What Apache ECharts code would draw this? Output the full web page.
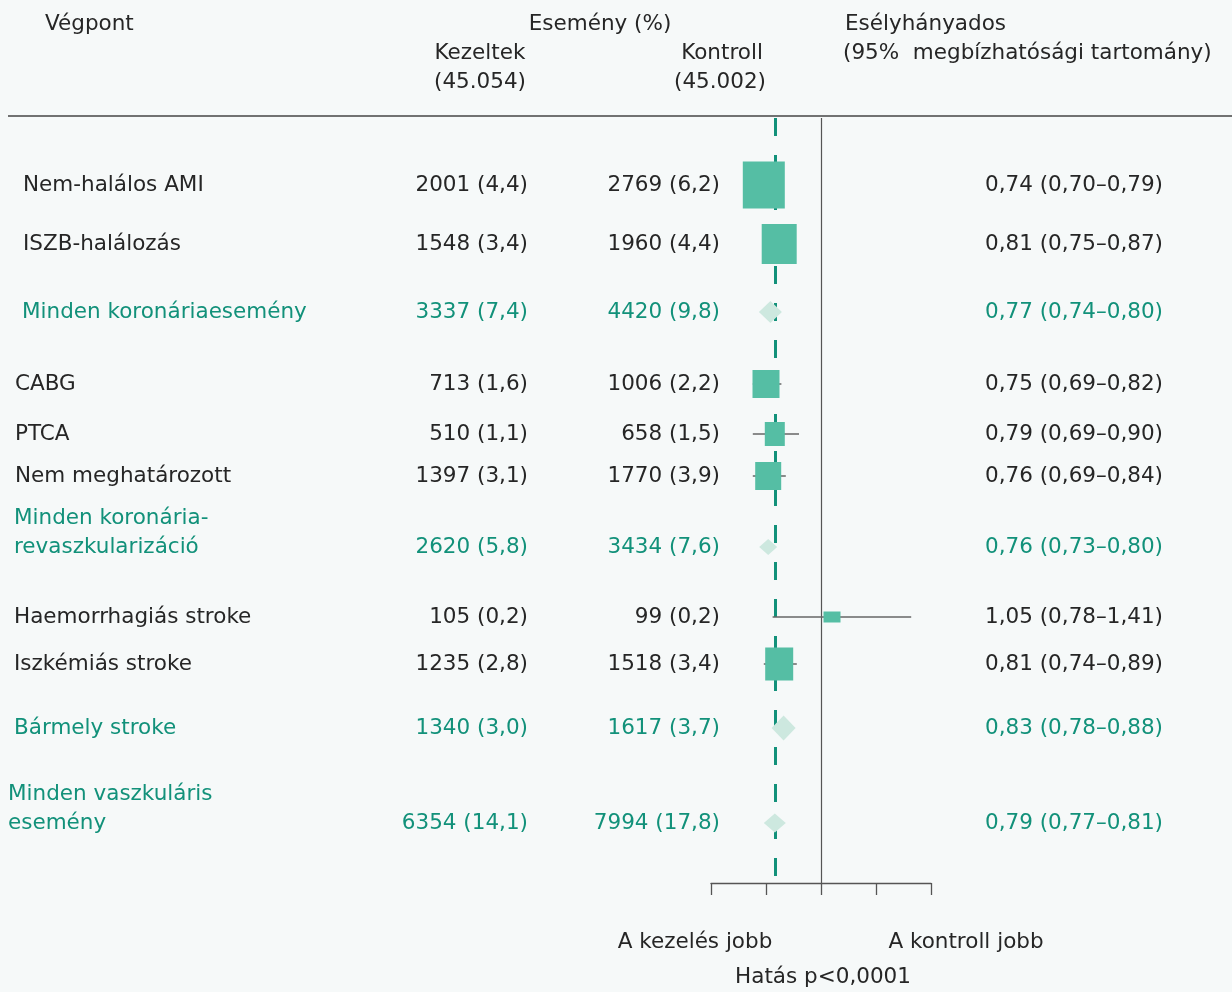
<!DOCTYPE html>
<html>
<head>
<meta charset="utf-8">
<script src="https://cdn.jsdelivr.net/npm/echarts@6/dist/echarts.min.js"></script>
<style>
  html, body { margin: 0; padding: 0; background: #f6f9f9; }
  #chart { width: 1232px; height: 992px; }
</style>
</head>
<body>
<div id="chart"></div>
<script>
// Endpoints and results (events, % of patients, odds ratio with 95% CI)
const endpoints = [
  'Nem-halálos AMI', 'ISZB-halálozás', 'Minden koronáriaesemény',
  'CABG', 'PTCA', 'Nem meghatározott', 'Minden koronária-\nrevaszkularizáció',
  'Haemorrhagiás stroke', 'Iszkémiás stroke', 'Bármely stroke',
  'Minden vaszkuláris\nesemény'
];
const treatedEvents = [2001, 1548, 3337, 713, 510, 1397, 2620, 105, 1235, 1340, 6354];
const treatedPct    = [4.4, 3.4, 7.4, 1.6, 1.1, 3.1, 5.8, 0.2, 2.8, 3.0, 14.1];
const controlEvents = [2769, 1960, 4420, 1006, 658, 1770, 3434, 99, 1518, 1617, 7994];
const controlPct    = [6.2, 4.4, 9.8, 2.2, 1.5, 3.9, 7.6, 0.2, 3.4, 3.7, 17.8];
const oddsRatio     = [0.74, 0.81, 0.77, 0.75, 0.79, 0.76, 0.76, 1.05, 0.81, 0.83, 0.79];
const ciLow         = [0.70, 0.75, 0.74, 0.69, 0.69, 0.69, 0.73, 0.78, 0.74, 0.78, 0.77];
const ciHigh        = [0.79, 0.87, 0.80, 0.82, 0.90, 0.84, 0.80, 1.41, 0.89, 0.88, 0.81];
const isSubtotal    = [false, false, true, false, false, false, true, false, false, true, true];
const overallOR = 0.79;
const axisMin = 0.5, axisMax = 1.5, axisStep = 0.25;

// Layout: vertical row slots (px from top of the plot band), label indents, marker sizes
const rowSlot   = [67, 126, 194, 266, 316, 358, 429, 499, 546, 610, 705];
const indent    = [23, 23, 22, 15, 15, 15, 14, 14, 14, 14, 8];
const boxSize   = [[42, 47], [35, 40], [23, 22], [27, 28], [20, 24], [26, 28], [18, 16], [17, 11], [28, 33], [24, 25], [22, 19]];

const FONT = "'DejaVu Sans', 'Noto Sans', sans-serif";
const FONT_SIZE = 21.5;
const INK = '#262626';
const GREEN = '#12917a';
const BOX = '#55bea4';
const DIAMOND = '#cde8df';

const fmt = (v, d) => v.toFixed(d).replace('.', ',');

const chart = echarts.init(document.getElementById('chart'), null, { renderer: 'canvas' });

const plotTop = 118, plotBottom = 883;

const whiskerData = [];
const boxData = [];
const diamondData = [];
oddsRatio.forEach((or, i) => {
  if (isSubtotal[i]) {
    diamondData.push({ value: [or, rowSlot[i]], symbolSize: boxSize[i] });
  } else {
    whiskerData.push([ciLow[i], ciHigh[i], rowSlot[i]]);
    boxData.push({ value: [or, rowSlot[i]], symbolSize: boxSize[i] });
  }
});

const option = {
  backgroundColor: '#f6f9f9',
  animation: false,
  grid: { left: 711, width: 220, top: plotTop, height: plotBottom - plotTop },
  xAxis: {
    type: 'value', min: axisMin, max: axisMax, interval: axisStep, position: 'bottom',
    axisLine: { show: true, onZero: false, lineStyle: { color: '#555', width: 1.3 } },
    axisTick: { show: true, length: 12, lineStyle: { color: '#555', width: 1.3 } },
    axisLabel: { show: false },
    splitLine: { show: false }
  },
  yAxis: {
    type: 'value', inverse: true, min: 0, max: plotBottom - plotTop,
    show: false
  },
  series: [
    {
      // reference lines: no effect (1.0) and overall odds ratio
      type: 'scatter', data: [], z: 1,
      markLine: {
        silent: true, symbol: 'none', label: { show: false }, z: 1,
        data: [
          { xAxis: 1.0, lineStyle: { color: '#555', width: 1.2, type: 'solid' } },
          { xAxis: overallOR, lineStyle: { color: GREEN, width: 3, type: [18, 19] } }
        ]
      }
    },
    {
      type: 'custom',
      data: whiskerData,
      z: 2,
      renderItem: (params, api) => {
        const a = api.coord([api.value(0), api.value(2)]);
        const b = api.coord([api.value(1), api.value(2)]);
        return {
          type: 'line',
          shape: { x1: a[0], y1: a[1], x2: b[0], y2: b[1] },
          style: { stroke: '#666', lineWidth: 1.5 }
        };
      }
    },
    {
      type: 'scatter', symbol: 'rect', z: 5,
      itemStyle: { color: BOX, opacity: 1 },
      data: boxData
    },
    {
      type: 'scatter', symbol: 'diamond', z: 5,
      itemStyle: { color: DIAMOND, opacity: 1 },
      data: diamondData
    }
  ]
};
chart.setOption(option);

// Text columns aligned with the plot rows
const yOf = v => chart.convertToPixel({ yAxisIndex: 0 }, v);
const txt = (text, x, y, align, color) => ({
  type: 'text', x, y, silent: true,
  style: { text, fill: color || INK, font: FONT_SIZE + 'px ' + FONT, textAlign: align || 'left', textVerticalAlign: 'middle' }
});

const graphics = [
  // header
  txt('Végpont', 45, 24),
  txt('Esemény (%)', 600, 24, 'center'),
  txt('Kezeltek', 480, 53, 'center'),
  txt('(45.054)', 480, 82, 'center'),
  txt('Kontroll', 722, 53, 'center'),
  txt('(45.002)', 720, 82, 'center'),
  txt('Esélyhányados', 845, 24),
  txt('(95%  megbízhatósági tartomány)', 843, 53),
  { type: 'line', silent: true, shape: { x1: 8, y1: 116, x2: 1232, y2: 116 }, style: { stroke: '#444', lineWidth: 1.3 } },
  // footer
  txt('A kezelés jobb', 695, 942, 'center'),
  txt('A kontroll jobb', 966, 942, 'center'),
  txt('Hatás p<0,0001', 823, 977, 'center')
];

endpoints.forEach((name, i) => {
  const y = yOf(rowSlot[i]);
  const color = isSubtotal[i] ? GREEN : INK;
  const lines = name.split('\n');
  lines.forEach((ln, k) => {
    graphics.push(txt(ln, indent[i], y - (lines.length - 1 - k) * 29, 'left', color));
  });
  graphics.push(txt(treatedEvents[i] + ' (' + fmt(treatedPct[i], 1) + ')', 528, y, 'right', color));
  graphics.push(txt(controlEvents[i] + ' (' + fmt(controlPct[i], 1) + ')', 720, y, 'right', color));
  graphics.push(txt(fmt(oddsRatio[i], 2) + ' (' + fmt(ciLow[i], 2) + '–' + fmt(ciHigh[i], 2) + ')', 1163, y, 'right', color));
});

chart.setOption({ graphic: graphics });
</script>
</body>
</html>
